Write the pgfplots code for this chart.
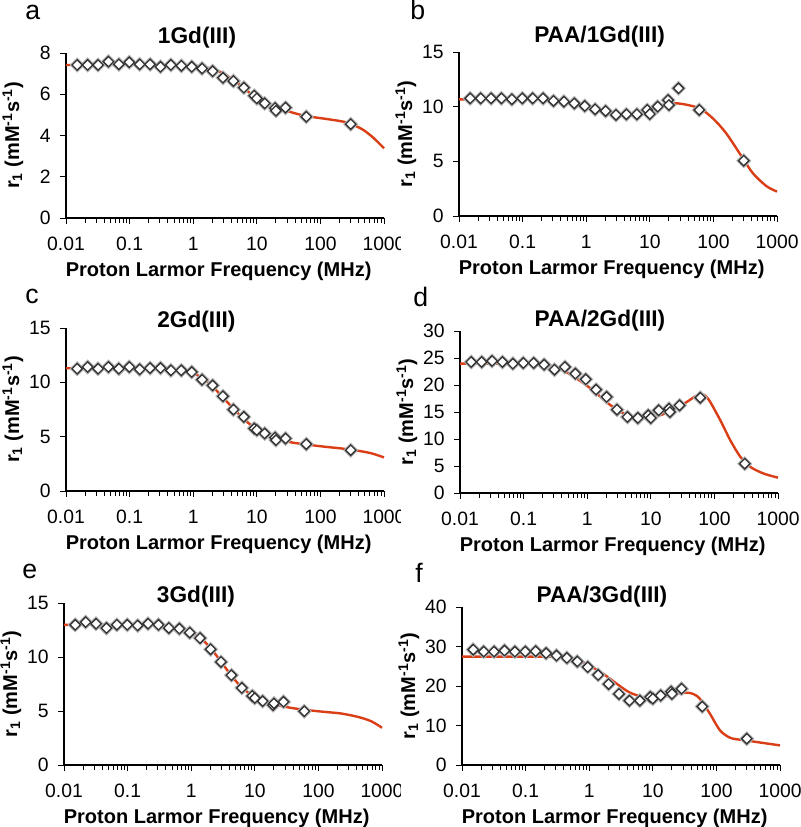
\documentclass[border=0pt]{standalone}
\usepackage{fontspec}
\setmainfont{Liberation Sans}
\usepackage{pgfplots}
\usepackage{pgfplotstable}
\pgfplotsset{compat=1.18}
\definecolor{fitred}{RGB}{218,62,22}
\definecolor{mkedge}{RGB}{50,50,50}

% ---------------- data: measured points ----------------
\pgfplotstableread{
f r
0.015 7.42
0.0219 7.42
0.0319 7.42
0.0465 7.58
0.0678 7.45
0.0989 7.55
0.144 7.45
0.210 7.45
0.306 7.33
0.446 7.42
0.651 7.38
0.949 7.33
1.38 7.25
2.02 7.12
2.94 6.80
4.29 6.64
6.26 6.32
9.12 5.93
10 5.80
13.3 5.56
19.4 5.33
20 5.20
28.3 5.35
60 4.91
300 4.55
}\dataA
\pgfplotstableread{
f r
0.015 10.76
0.0219 10.76
0.0319 10.76
0.0465 10.76
0.0678 10.67
0.0989 10.76
0.144 10.76
0.210 10.76
0.306 10.52
0.446 10.46
0.651 10.30
0.949 10.06
1.38 9.76
2.02 9.60
2.94 9.24
4.29 9.30
6.26 9.30
9.12 9.70
10 9.33
13.3 10.0
19.4 10.6
20 10.15
28.3 11.68
60 9.70
300 5.06
}\dataB
\pgfplotstableread{
f r
0.015 11.25
0.0219 11.41
0.0319 11.25
0.0465 11.41
0.0678 11.25
0.0989 11.41
0.144 11.19
0.210 11.31
0.306 11.31
0.446 11.10
0.651 11.10
0.949 10.95
1.38 10.24
2.02 9.72
2.94 8.72
4.29 7.49
6.26 6.82
9.12 5.75
10 5.60
13.3 5.29
19.4 4.92
20 4.68
28.3 4.83
60 4.31
300 3.76
}\dataC
\pgfplotstableread{
f r
0.015 24.26
0.0219 24.26
0.0319 24.44
0.0465 24.26
0.0678 23.95
0.0989 24.07
0.144 24.07
0.210 23.77
0.306 22.84
0.446 23.33
0.651 22.10
0.949 21.05
1.38 19.14
2.02 17.78
2.94 15.43
4.29 14.07
6.26 13.89
9.12 14.38
10 13.89
13.3 15.31
19.4 15.6
20 15.0
28.3 16.23
60 17.65
300 5.43
}\dataD
\pgfplotstableread{
f r
0.015 12.98
0.0219 13.23
0.0319 13.08
0.0465 12.68
0.0678 12.98
0.0989 12.98
0.144 12.92
0.210 13.08
0.306 12.98
0.446 12.68
0.651 12.62
0.949 12.25
1.38 11.75
2.02 10.71
2.94 9.54
4.29 8.31
6.26 7.14
9.12 6.40
10 6.20
13.3 5.91
19.4 5.54
20 5.70
28.3 5.85
60 4.98
}\dataE
\pgfplotstableread{
f r
0.015 29.2
0.0219 28.7
0.0319 28.7
0.0465 28.97
0.0678 28.7
0.0989 28.7
0.144 28.8
0.210 28.3
0.306 27.7
0.446 27.1
0.651 26.2
0.949 24.8
1.38 22.8
2.02 20.5
2.94 18.0
4.29 16.3
6.26 16.3
9.12 17.2
10 16.8
13.3 17.6
19.4 18.6
20 18.0
28.3 19.3
60 14.8
300 6.65
}\dataF

\pgfplotsset{
  nmrd/.style={
    scale only axis, width=238.5pt,
    xmin=0.01, xmax=1000, ymin=0,
    axis x line*=bottom, axis y line*=left,
    axis line style={black, line width=0.8pt},
    tick style={black, line width=0.7pt},
    tick align=outside,
    major tick length=4.5pt, minor tick length=3.5pt,
    xtick={0.01,0.1,1,10,100,1000},
    xticklabels={0.01,0.1,1,10,100,1000},
    minor xtick={0.02,0.03,0.04,0.05,0.06,0.07,0.08,0.09,
                 0.2,0.3,0.4,0.5,0.6,0.7,0.8,0.9,
                 2,3,4,5,6,7,8,9,20,30,40,50,60,70,80,90,
                 200,300,400,500,600,700,800,900},
    yticklabel={\pgfmathprintnumber[assume math mode=true]{\tick}},
    tick label style={font=\fontsize{14.5}{17}\selectfont},
    xticklabel style={yshift=-6.5pt},
    yticklabel style={xshift=-3.5pt},
    xlabel={Proton Larmor Frequency (MHz)},
    ylabel={r\textsubscript{1} (mM\textsuperscript{-1}s\textsuperscript{-1})},
    label style={font=\bfseries\fontsize{15}{18}\selectfont},
    xlabel style={at={(axis description cs:0.48,0)}, anchor=center, yshift=-40pt},
    ylabel style={at={(axis description cs:-0.167,0.5)}, anchor=center},
    title style={font=\bfseries\fontsize{17}{20}\selectfont, anchor=center, yshift=-6pt},
    clip=false,
  },
  halo/.style={only marks, mark=square, mark size=2.75pt,
    mark options={rotate=45, draw=black!30, line width=2.6pt}},
  dia/.style={only marks, mark=square*, mark size=2.75pt,
    mark options={rotate=45, draw=mkedge, fill=white, line width=1pt}},
  fitcurve/.style={fitred, line width=1.8pt, smooth, no marks},
}

\newcommand{\letter}[1]{\fontsize{20}{24}\selectfont #1}

\begin{document}
\begin{tikzpicture}
\path[use as bounding box] (0,0) rectangle (600pt,-620.25pt);

\begin{scope}
\clip (0,0) rectangle (300pt,-620.25pt);
% ---- a ----
\begin{semilogxaxis}[nmrd, at={(49.5pt,-163.5pt)}, anchor=south west, height=123.75pt,
  ymax=8, ytick={0,2,4,6,8},
  title={1Gd(III)}, title style={at={(axis description cs:0.412,1.091)}}]
\addplot[halo] table[x=f,y=r]{\dataA};
\addplot[dia] table[x=f,y=r]{\dataA};
\addplot[fitcurve] coordinates {(0.01,7.42) (0.1,7.42) (1.0,7.38) (1.44,7.33) (2.07,7.22) (2.98,7.01) (4.28,6.69) (6.14,6.32) (8.82,5.93) (12.7,5.61) (20.5,5.35) (37.5,5.10) (60.8,4.94) (125.6,4.80) (229.6,4.67) (330,4.51) (473,4.27) (680,3.89) (1000,3.38)};
\end{semilogxaxis}
% ---- c ----
\begin{semilogxaxis}[nmrd, at={(49.5pt,-368.25pt)}, anchor=south west, height=122.25pt,
  ymax=15, ytick={0,5,10,15},
  title={2Gd(III)}, title style={at={(axis description cs:0.41,1.037)}}]
\addplot[halo] table[x=f,y=r]{\dataC};
\addplot[dia] table[x=f,y=r]{\dataC};
\addplot[fitcurve] coordinates {(0.01,11.3) (0.1,11.3) (0.3,11.28) (0.65,11.1) (0.98,10.89) (1.41,10.34) (2.01,9.63) (2.89,8.65) (4.14,7.68) (5.94,6.76) (8.51,5.96) (12.2,5.35) (19.7,4.83) (36,4.46) (65.6,4.25) (119,4.07) (218,3.91) (397,3.70) (641,3.46) (1000,3.09)};
\end{semilogxaxis}
% ---- e ----
\begin{semilogxaxis}[nmrd, at={(48pt,-573.75pt)}, anchor=south west, height=121.5pt,
  ymax=15, ytick={0,5,10,15},
  title={3Gd(III)}, title style={at={(axis description cs:0.415,1.037)}}]
\addplot[halo] table[x=f,y=r]{\dataE};
\addplot[dia] table[x=f,y=r]{\dataE};
\addplot[fitcurve] coordinates {(0.01,12.98) (0.1,12.98) (0.3,12.9) (0.485,12.77) (0.697,12.62) (1.0,12.25) (1.44,11.69) (2.06,10.77) (2.96,9.54) (4.25,8.31) (6.1,7.23) (8.75,6.52) (12.6,6.0) (20.4,5.6) (37.2,5.29) (68,5.08) (124,4.92) (227,4.77) (415,4.46) (672,4.06) (1000,3.45)};
\end{semilogxaxis}
\end{scope}

% ---- b ----
\begin{semilogxaxis}[nmrd, at={(344.25pt,-162pt)}, anchor=south west, height=123pt,
  ymax=15, ytick={0,5,10,15},
  title={PAA/1Gd(III)}, title style={at={(axis description cs:0.442,1.091)}}]
\addplot[halo] table[x=f,y=r]{\dataB};
\addplot[dia] table[x=f,y=r]{\dataB};
\addplot[fitcurve] coordinates {(0.01,10.67) (0.1,10.67) (0.295,10.67) (0.54,10.46) (0.99,10.15) (1.81,9.7) (3.32,9.3) (4.23,9.15) (6.08,9.24) (8.73,9.6) (14.2,10.06) (23,10.3) (33,10.24) (60.5,9.85) (98,8.93) (159,7.56) (291,5.27) (419,3.9) (679,2.74) (1000,2.23)};
\end{semilogxaxis}
% ---- d ----
\begin{semilogxaxis}[nmrd, at={(345pt,-369.75pt)}, anchor=south west, height=121.5pt,
  ymax=30, ytick={0,5,10,15,20,25,30},
  title={PAA/2Gd(III)}, title style={at={(axis description cs:0.44,1.062)}}]
\addplot[halo] table[x=f,y=r]{\dataD};
\addplot[dia] table[x=f,y=r]{\dataD};
\addplot[fitcurve] coordinates {(0.01,23.95) (0.1,23.95) (0.198,23.83) (0.286,23.46) (0.464,22.41) (0.755,20.86) (1.23,19.01) (2.0,16.85) (3.24,15.12) (5.27,14.07) (8.56,13.89) (13.9,14.38) (22.6,15.43) (36.7,16.85) (50,17.9) (62,18.3) (72,18.0) (86,16.85) (124,13.46) (178,9.75) (257,6.67) (370,4.81) (601,3.58) (1000,2.84)};
\end{semilogxaxis}
% ---- f ----
\begin{semilogxaxis}[nmrd, at={(346.5pt,-573.75pt)}, anchor=south west, height=118.5pt,
  ymax=40, ytick={0,10,20,30,40},
  title={PAA/3Gd(III)}, title style={at={(axis description cs:0.44,1.063)}}]
\addplot[halo] table[x=f,y=r]{\dataF};
\addplot[dia] table[x=f,y=r]{\dataF};
\addplot[fitcurve] coordinates {(0.01,27.45) (0.1,27.45) (0.3,27.4) (0.426,27.3) (0.614,26.6) (0.997,25.2) (1.62,23.2) (2.64,20.7) (4.28,18.4) (6.97,17.2) (10,16.9) (14.4,17.2) (23.4,18.0) (33.7,18.3) (43,18.0) (54.8,16.8) (79,13.0) (114,8.76) (164,6.9) (236,6.4) (340,6.06) (552,5.56) (1000,4.97)};
\end{semilogxaxis}

% panel letters
\node[anchor=base west, inner sep=0pt] at (18.75pt,-15pt) {\letter{a}};
\node[anchor=base west, inner sep=0pt] at (307.5pt,-15pt) {\letter{b}};
\node[anchor=base west, inner sep=0pt] at (18.75pt,-227.25pt) {\letter{c}};
\node[anchor=base west, inner sep=0pt] at (309.75pt,-229.5pt) {\letter{d}};
\node[anchor=base west, inner sep=0pt] at (16.5pt,-433.5pt) {\letter{e}};
\node[anchor=base west, inner sep=0pt] at (311.25pt,-436.5pt) {\letter{f}};
\end{tikzpicture}
\end{document}
